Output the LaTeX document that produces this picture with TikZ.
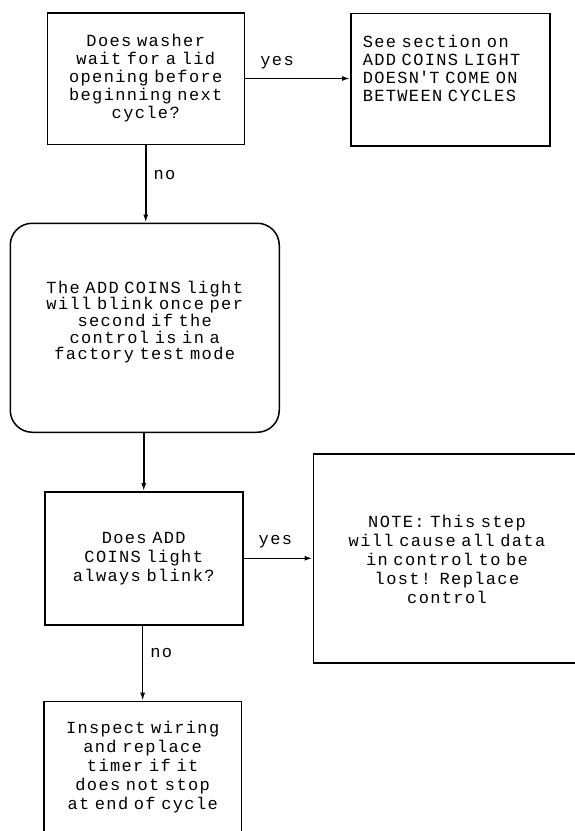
\documentclass[tikz,border=0pt]{standalone}
\usepackage{fontspec}
\setmainfont{Liberation Mono}[LetterSpace=8]
\usetikzlibrary{arrows.meta, positioning}
\newcommand{\plotfont}[1][18pt]{\fontsize{17pt}{#1}\selectfont\spaceskip=12.5pt\relax\lineskiplimit=-20pt}

\begin{document}
\begin{tikzpicture}[x=1pt, y=-1pt, font=\plotfont, line width=1.5pt,
    >={Latex[length=8pt,width=5pt]},
    box/.style={draw, anchor=north west, inner xsep=0pt, inner ysep=0pt, align=center},
    arr/.style={->},
    lbl/.style={inner sep=0pt, anchor=base west},
  ]
    \useasboundingbox (0,0) rectangle (575,831);

    \node[box, text width=197pt, text height=34pt, text depth=97.5pt] (lid) at (46.5,12)
      {Does washer\\wait for a lid\\opening before\\beginning next\\cycle?};
    \node[box, align=left, inner xsep=12pt, text width=175pt, text height=34.5pt, text depth=98pt] (see) at (350,12.5)
      {See section on\\ADD COINS LIGHT\\DOESN\textquotesingle T COME ON\\BETWEEN CYCLES};

    \node[box, rounded corners=22pt, font={\plotfont[16.7pt]}, text width=269pt, text height=69.8pt, text depth=139.2pt] (blink) at (9.5,222.5)
      {The ADD COINS light\\will blink once per\\second if the\\control is in a\\factory test mode};

    \node[box, font={\plotfont[19pt]}, text width=198pt, text height=52pt, text depth=81pt] (always) at (44,491)
      {Does ADD\\COINS light\\always blink?};
    \node[box, font={\plotfont[19pt]}, text width=267.5pt, text height=73.5pt, text depth=135.5pt] (note) at (312.5,453)
      {NOTE: This step\\will cause all data\\in control to be\\lost! Replace\\control};

    \node[box, font={\plotfont[19pt]}, text width=197.2pt, text height=32.3pt, text depth=112pt] (inspect) at (43.3,700.7)
      {Inspect wiring\\and replace\\timer if it\\does not stop\\at end of cycle};

    \draw[arr] (lid.east) -- node[lbl, pos=0.14, yshift=13pt] {yes} (lid.east -| see.west);
    \draw[arr] (lid.south) -- node[lbl, pos=0.44, xshift=7pt] {no} (lid.south |- blink.north);
    \draw[arr] (blink.south -| always.north) -- (always.north);
    \draw[arr] (always.east) -- node[lbl, pos=0.21, yshift=13.5pt] {yes} (always.east -| note.west);
    \draw[arr] (inspect.north |- always.south) -- node[lbl, pos=0.43, xshift=7pt] {no} (inspect.north);
  \end{tikzpicture}
\end{document}
